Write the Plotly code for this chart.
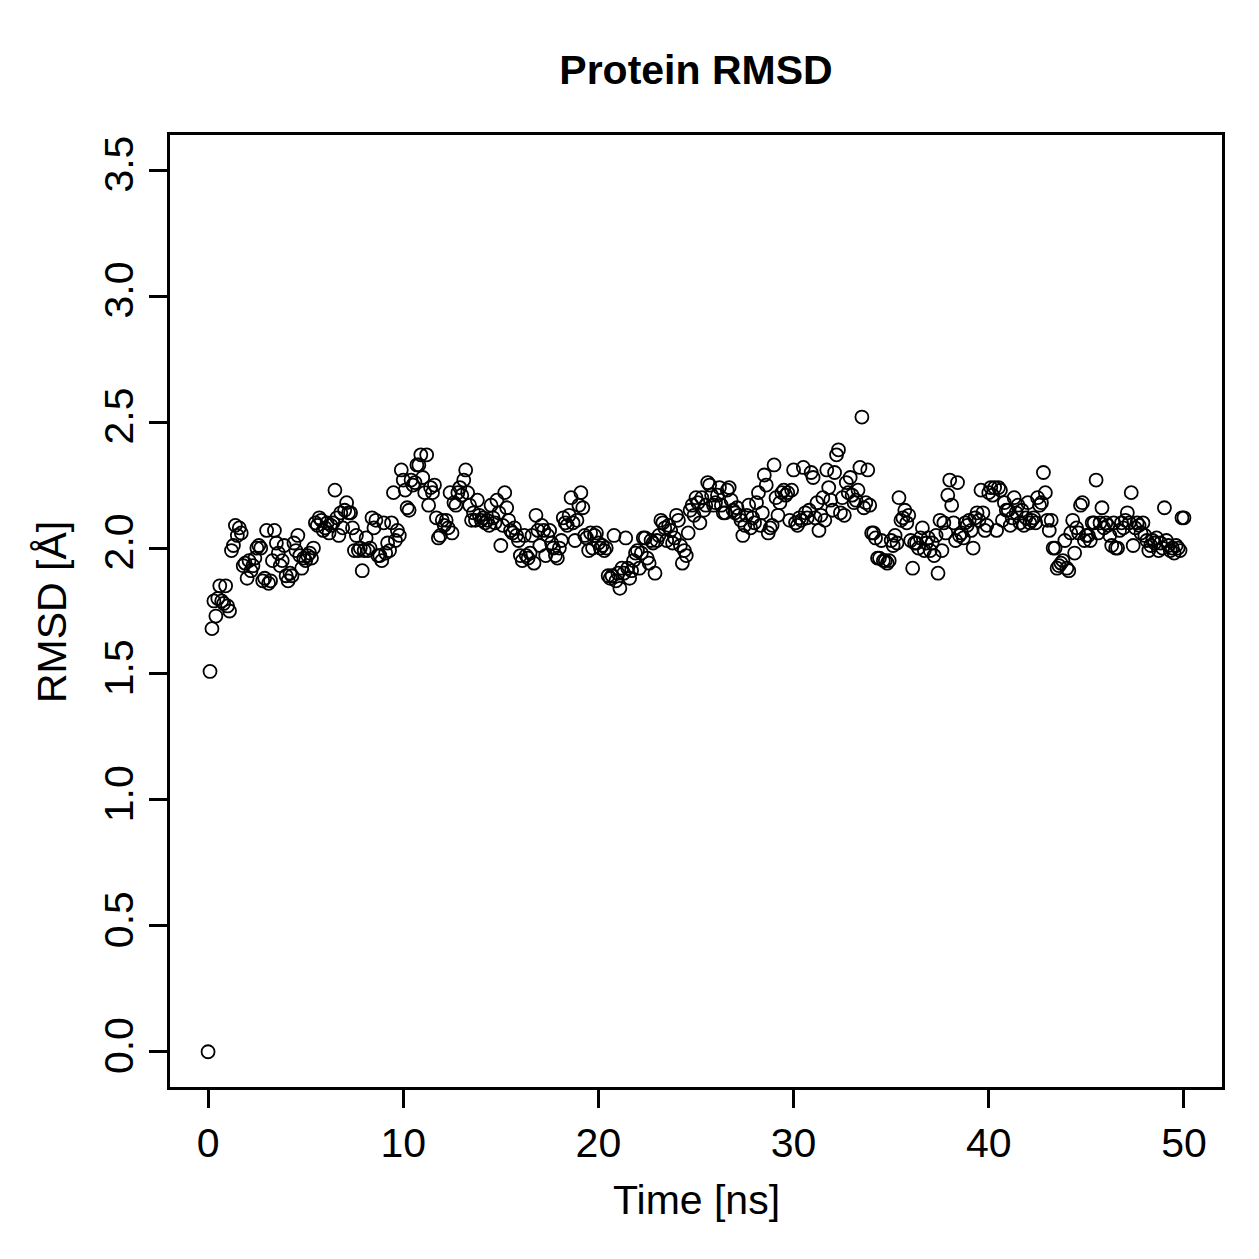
import numpy as np
import plotly.graph_objects as go

# RMSD values (Å), one per 0.1 ns from 0 to 50 ns
rmsd = [
    0.00, 1.51, 1.68, 1.79, 1.73, 1.80, 1.85, 1.79, 1.78, 1.85, 1.77,
    1.75, 1.99, 2.01, 2.09, 2.05, 2.08, 2.06, 1.93, 1.94, 1.88,
    1.95, 1.91, 1.93, 1.96, 2.00, 2.01, 2.00, 1.87, 1.88, 2.07,
    1.86, 1.87, 1.95, 2.07, 2.02, 1.98, 1.93, 1.95, 2.01, 1.89,
    1.87, 1.90, 1.89, 2.02, 1.99, 2.05, 1.97, 1.92, 1.96, 1.95,
    1.97, 1.98, 1.96, 2.00, 2.10, 2.09, 2.12, 2.11, 2.07, 2.08,
    2.10, 2.06, 2.09, 2.10, 2.23, 2.12, 2.05, 2.14, 2.08, 2.15,
    2.18, 2.14, 2.14, 2.08, 1.99, 2.05, 1.99, 2.00, 1.91, 1.99,
    2.04, 1.99, 2.00, 2.12, 2.08, 2.11, 1.97, 1.97, 1.95, 2.10,
    1.98, 2.02, 1.99, 2.10, 2.22, 2.03, 2.07, 2.05, 2.31, 2.27,
    2.23, 2.16, 2.15, 2.27, 2.25, 2.26, 2.33, 2.33, 2.37, 2.28,
    2.22, 2.37, 2.17, 2.24, 2.22, 2.25, 2.12, 2.04, 2.05, 2.11,
    2.09, 2.11, 2.08, 2.22, 2.06, 2.18, 2.17, 2.22, 2.24, 2.21,
    2.27, 2.31, 2.22, 2.17, 2.11, 2.14, 2.11, 2.19, 2.13, 2.11,
    2.12, 2.10, 2.11, 2.09, 2.17, 2.12, 2.10, 2.19, 2.14, 2.01,
    2.09, 2.22, 2.16, 2.11, 2.07, 2.06, 2.08, 2.05, 2.03, 1.97,
    1.95, 2.05, 1.97, 1.96, 1.98, 2.05, 1.94, 2.13, 2.07, 2.01,
    2.09, 2.07, 1.97, 2.05, 2.07, 2.02, 2.00, 1.97, 1.96, 2.00,
    2.03, 2.12, 2.10, 2.09, 2.13, 2.20, 2.10, 2.03, 2.11, 2.17,
    2.22, 2.16, 2.05, 2.04, 1.99, 2.06, 2.00, 2.05, 2.06, 2.02,
    2.00, 2.01, 1.99, 2.00, 1.89, 1.88, 1.89, 2.05, 1.87, 1.90,
    1.84, 1.92, 1.90, 2.04, 1.92, 1.88, 1.91, 1.95, 1.98, 1.99,
    1.92, 1.98, 2.04, 2.04, 1.96, 1.94, 2.03, 2.02, 1.90, 2.03,
    2.05, 2.11, 2.10, 2.08, 2.03, 2.09, 2.07, 2.02, 2.04, 2.13,
    2.11, 2.01, 1.94, 1.99, 1.97, 2.06, 2.15, 2.17, 2.13, 2.20,
    2.18, 2.10, 2.20, 2.15, 2.17, 2.26, 2.25, 2.21, 2.17, 2.18,
    2.21, 2.24, 2.17, 2.14, 2.14, 2.23, 2.24, 2.19, 2.15, 2.14,
    2.16, 2.13, 2.11, 2.05, 2.09, 2.13, 2.17, 2.08, 2.12, 2.10,
    2.18, 2.22, 2.09, 2.14, 2.29, 2.25, 2.06, 2.08, 2.09, 2.33,
    2.20, 2.13, 2.18, 2.22, 2.23, 2.21, 2.22, 2.11, 2.23, 2.31,
    2.10, 2.09, 2.12, 2.11, 2.32, 2.14, 2.12, 2.15, 2.30, 2.28,
    2.12, 2.18, 2.07, 2.13, 2.20, 2.11, 2.31, 2.24, 2.19, 2.15,
    2.30, 2.37, 2.39, 2.14, 2.20, 2.13, 2.26, 2.22, 2.28, 2.21,
    2.18, 2.19, 2.23, 2.32, 2.52, 2.16, 2.18, 2.31, 2.17, 2.06,
    2.06, 2.04, 1.96, 1.96, 2.03, 1.95, 1.95, 1.94, 1.95, 2.03,
    2.01, 2.05, 2.02, 2.20, 2.11, 2.12, 2.15, 2.10, 2.13, 2.03,
    1.92, 2.02, 2.02, 2.00, 2.04, 2.08, 1.99, 2.02, 2.04, 1.99,
    2.02, 1.97, 2.05, 1.90, 2.11, 1.99, 2.10, 2.06, 2.21, 2.27,
    2.17, 2.10, 2.03, 2.26, 2.05, 2.06, 2.04, 2.10, 2.09, 2.11,
    2.07, 2.00, 2.12, 2.14, 2.11, 2.23, 2.14, 2.07, 2.09, 2.22,
    2.24, 2.21, 2.24, 2.07, 2.24, 2.23, 2.11, 2.18, 2.15, 2.15,
    2.09, 2.12, 2.20, 2.14, 2.17, 2.10, 2.15, 2.09, 2.12, 2.18,
    2.10, 2.11, 2.12, 2.10, 2.20, 2.17, 2.18, 2.30, 2.22, 2.11,
    2.07, 2.11, 2.00, 2.00, 1.92, 1.93, 1.94, 1.95, 2.03, 1.92,
    1.91, 2.06, 2.11, 1.98, 2.08, 2.06, 2.17, 2.18, 2.03, 2.05,
    2.05, 2.03, 2.10, 2.10, 2.27, 2.06, 2.10, 2.16, 2.08, 2.10,
    2.09, 2.05, 2.01, 2.10, 2.00, 2.00, 2.07, 2.10, 2.08, 2.11,
    2.14, 2.10, 2.22, 2.01, 2.08, 2.10, 2.09, 2.06, 2.10, 2.05,
    2.03, 1.99, 2.01, 2.03, 2.02, 2.04, 1.99, 2.02, 2.00, 2.16,
    2.03, 2.01, 1.99, 2.00, 1.98, 2.01, 2.00, 1.99, 2.12, 2.12,
]
time_ns = np.round(np.arange(len(rmsd)) * 0.1, 1)

x_ticks = [0, 10, 20, 30, 40, 50]
y_ticks = [0.0, 0.5, 1.0, 1.5, 2.0, 2.5, 3.0, 3.5]
y_ticklabels = ["0.0", "0.5", "1.0", "1.5", "2.0", "2.5", "3.0", "3.5"]

FONT = "Liberation Sans, Arial, Helvetica, sans-serif"
FS = 41

fig = go.Figure()
fig.add_trace(go.Scatter(
    x=time_ns, y=rmsd, mode="markers",
    marker=dict(symbol="circle-open", size=13, color="black",
                line=dict(color="black", width=1.8)),
    showlegend=False,
))

L, R, T, B = 170, 37, 135, 172
W = H = 1259
fig.update_layout(
    width=W, height=H,
    margin=dict(l=L, r=R, t=T, b=B, autoexpand=False),
    paper_bgcolor="white", plot_bgcolor="white",
    font=dict(family=FONT, color="black", size=FS),
    title=dict(text="<b>Protein RMSD</b>", font=dict(size=41, family=FONT),
               x=(L + (W - L - R) / 2) / W, xref="container", xanchor="center",
               y=1 - 70 / H, yref="container", yanchor="middle"),
)
fig.update_xaxes(
    range=[-1.95, 51.95], tickvals=x_ticks, ticktext=[str(v) for v in x_ticks],
    showline=True, mirror=True, linecolor="black", linewidth=2.5,
    ticks="outside", ticklen=18, tickwidth=2.5, tickcolor="black",
    showgrid=False, zeroline=False, tickfont=dict(size=FS),
)
fig.update_yaxes(
    range=[-0.14, 3.64], tickvals=y_ticks, ticktext=y_ticklabels, tickangle=-90,
    showline=True, mirror=True, linecolor="black", linewidth=2.5,
    ticks="outside", ticklen=18, tickwidth=2.5, tickcolor="black",
    showgrid=False, zeroline=False, tickfont=dict(size=FS),
)
ph = H - T - B
pw = W - L - R
fig.add_annotation(text="Time [ns]", xref="paper", yref="paper",
                   x=0.5, y=(H - B - 1200) / ph, xanchor="center", yanchor="middle",
                   showarrow=False, font=dict(size=FS))
fig.add_annotation(text="RMSD [Å]", xref="paper", yref="paper",
                   x=(52 - L) / pw, y=(H - B - 612) / ph, xanchor="center", yanchor="middle",
                   textangle=-90, showarrow=False, font=dict(size=FS))

fig.write_html("out.html")
